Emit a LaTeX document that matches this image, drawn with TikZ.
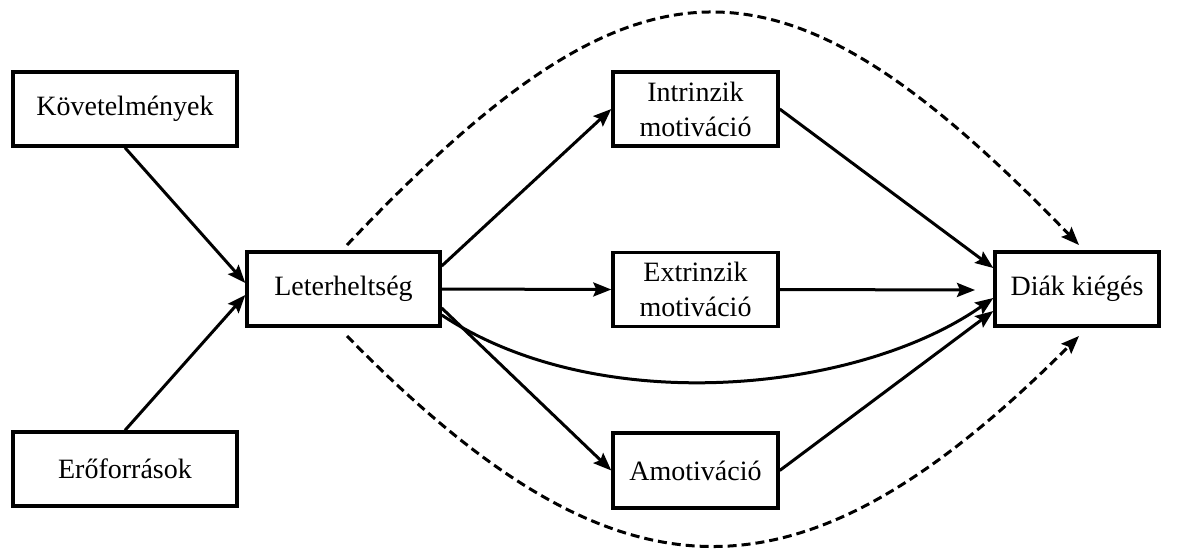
\documentclass[tikz,border=0pt]{standalone}
\usepackage{fontspec}
\setmainfont{Liberation Serif}
\usetikzlibrary{arrows.meta}
\begin{document}
\begin{tikzpicture}[x=1pt,y=-1pt,
  box/.style={draw,line width=3.4pt,inner sep=0pt,align=center,minimum height=74pt,
    font=\fontsize{28}{35}\selectfont},
  arr/.style={line width=3pt,-{Stealth[length=18pt,width=14pt,inset=3pt]}},
  darr/.style={arr,dash pattern=on 9pt off 5pt}]
\useasboundingbox (0,0) rectangle (1177,557);
\node[box,minimum width=224pt] (K) at (125,109) {Követelmények};
\node[box,minimum width=224pt] (E) at (125,469) {Erőforrások};
\node[box,minimum width=193pt] (L) at (343.5,289) {Leterheltség};
\node[box,minimum width=165pt] (I) at (695.5,109) {Intrinzik\\motiváció};
\node[box,minimum width=165pt] (X) at (695.5,289.5) {Extrinzik\\motiváció};
\node[box,minimum width=165pt,minimum height=75pt] (A) at (695.5,470.5) {Amotiváció};
\node[box,minimum width=164pt] (D) at (1077,289) {Diák kiégés};
% anchor coordinates
\coordinate (Lin1) at (L.west |- 0,283);
\coordinate (Lin2) at (L.west |- 0,295);
\coordinate (Lo1) at (L.east |- 0,266);
\coordinate (Lo3) at (L.east |- 0,308);
\coordinate (Lo4) at (L.east |- 0,315);
\coordinate (Din1) at (D.west |- 0,268);
\coordinate (Din2) at (975,290);
\coordinate (Din3) at (D.west |- 0,298);
\coordinate (Din4) at (D.west |- 0,311);
\coordinate (Ds) at (347,245);
\coordinate (Dt) at (1079,245);
\coordinate (Bs) at (347,336);
\coordinate (Bt) at (1079,336);
\draw[arr] (K.south) -- (Lin1);
\draw[arr] (E.north) -- (Lin2);
\draw[arr] (Lo1) -- (I.west);
\draw[arr] (L.east) -- (X.west);
\draw[arr] (Lo3) -- (A.west);
\draw[arr] (I.east) -- (Din1);
\draw[arr] (X.east) -- (Din2);
\draw[arr] (A.east) -- (Din4);
\draw[arr] (Lo4) .. controls (600,420) and (860,392) .. (Din3);
\draw[darr] (Ds) .. controls (640,-64) and (780,-64) .. (Dt);
\draw[darr] (Bs) .. controls (620,615) and (800,615) .. (Bt);
\end{tikzpicture}
\end{document}
